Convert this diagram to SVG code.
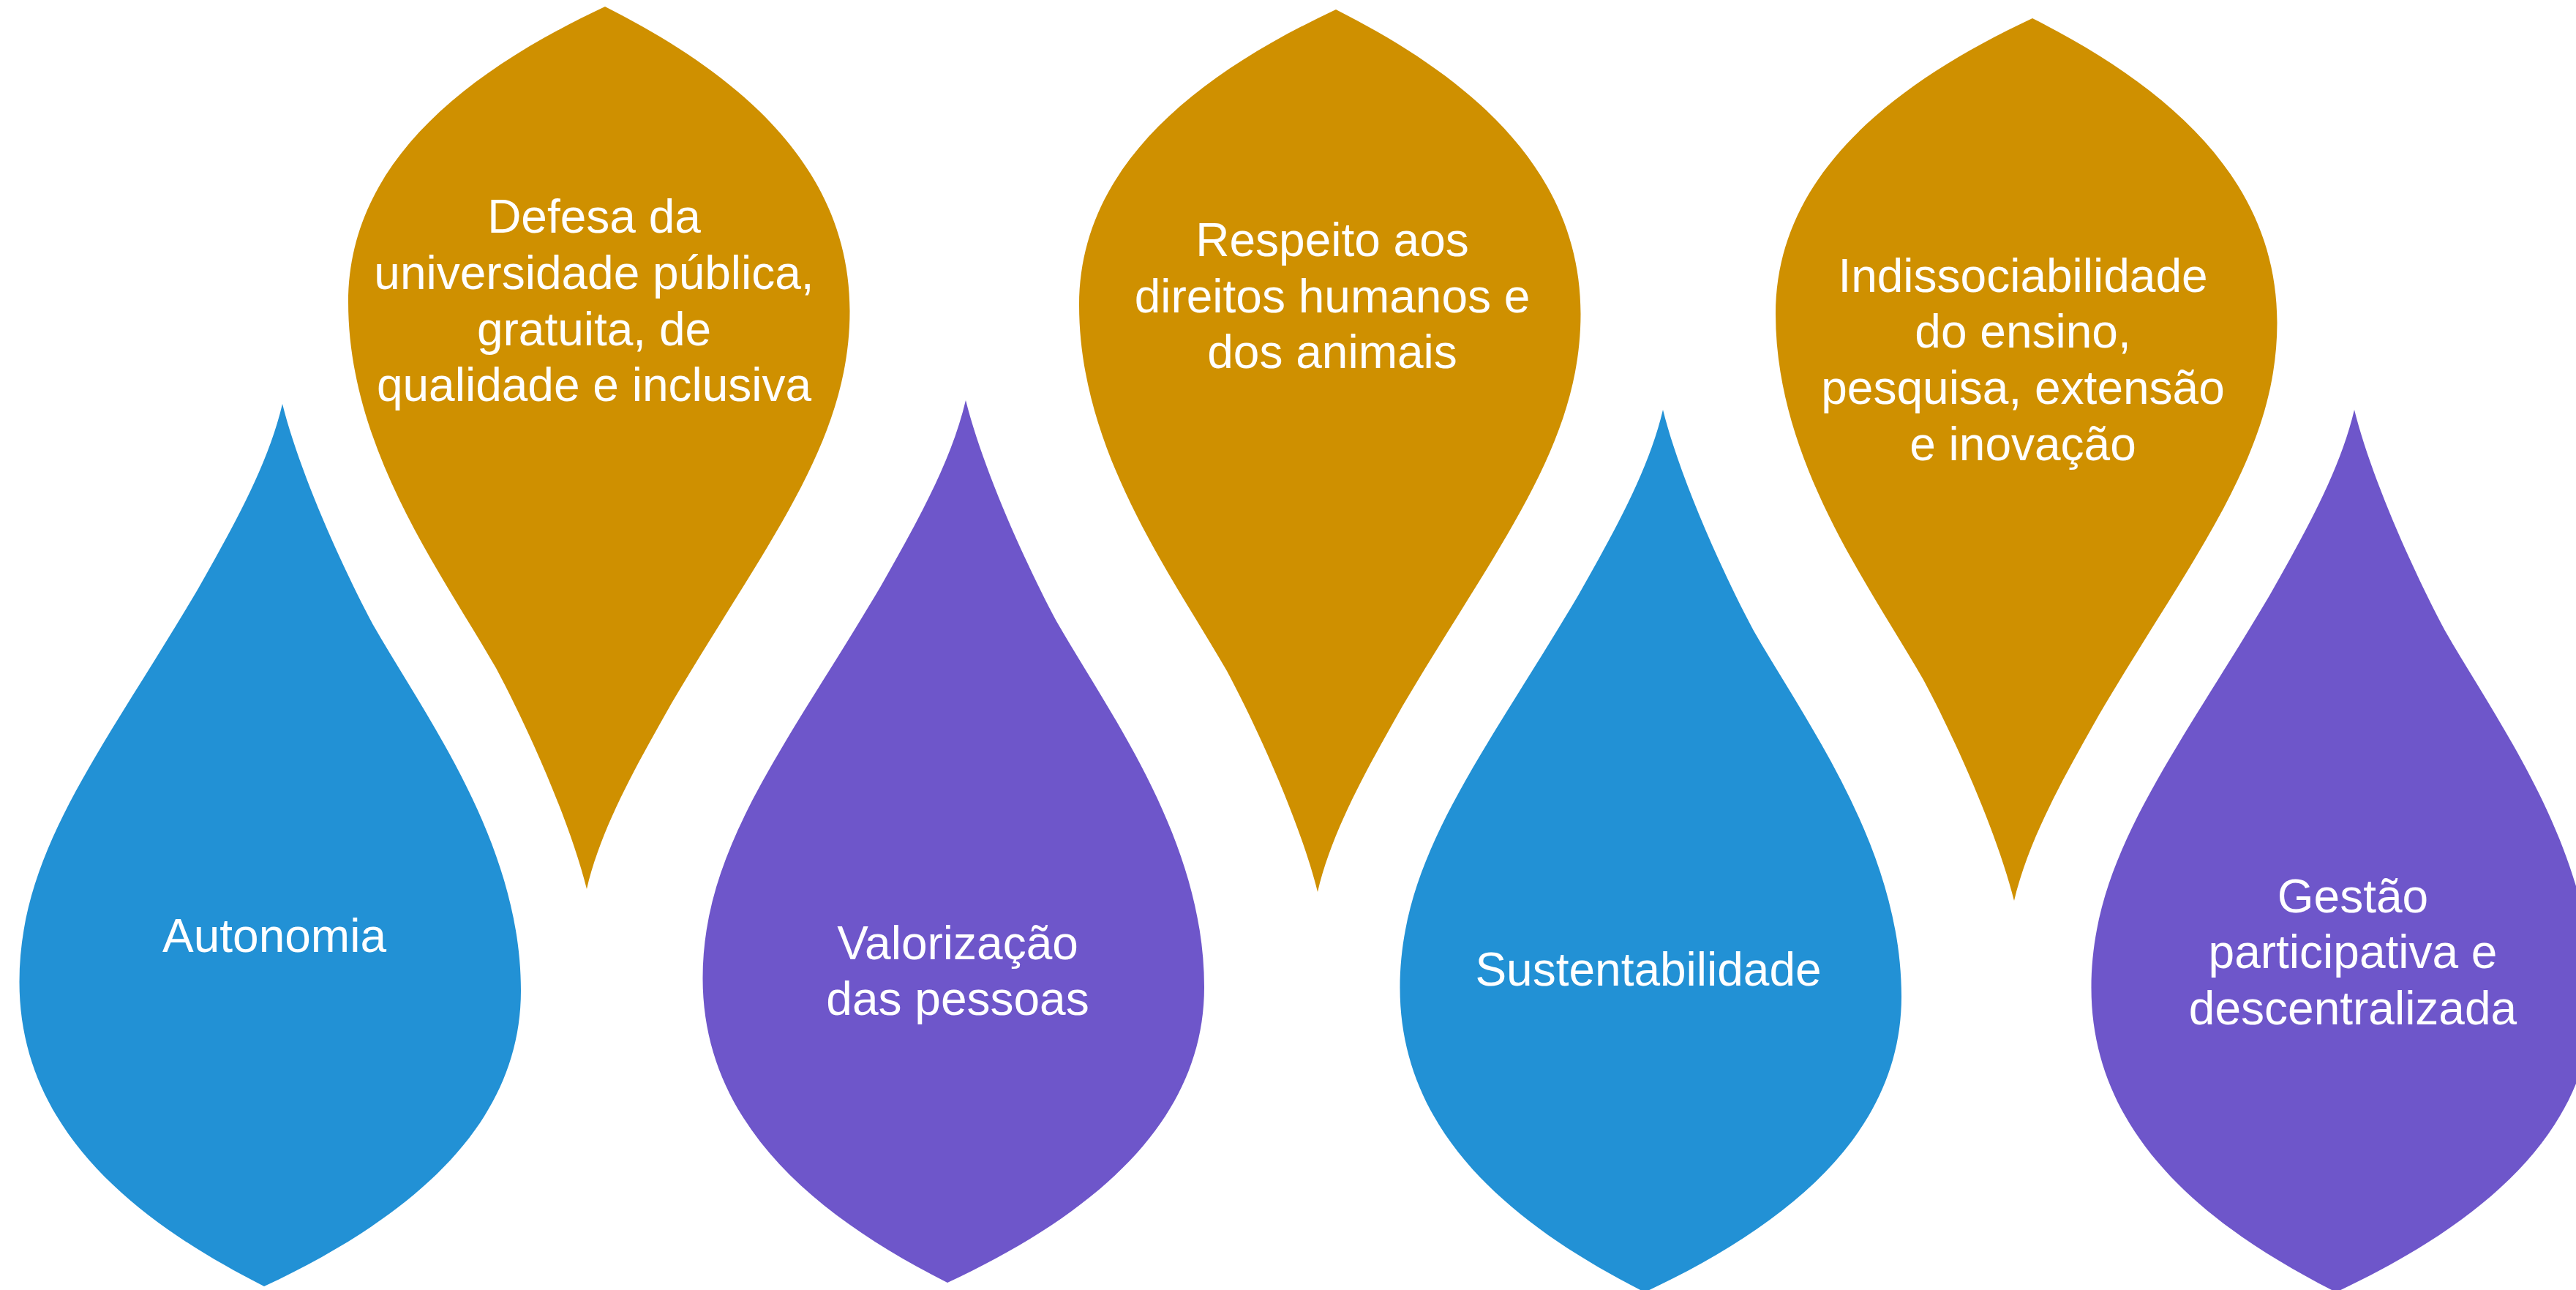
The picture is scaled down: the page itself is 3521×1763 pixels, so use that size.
<svg xmlns="http://www.w3.org/2000/svg" xmlns:xlink="http://www.w3.org/1999/xlink" width="3521" height="1763" viewBox="0 0 3521 1763">
<style>
.blue{fill:#2291D5}
.purple{fill:#6E56CA}
.gold{fill:#CF9000}
.lbl{font-family:"Liberation Sans",Arial,sans-serif;font-size:64px;fill:#FFFFFF;text-anchor:middle}
</style>
<defs>
<path id="drop" d="M0,0 C-20,85 -68,169 -116,254 C-246,474 -359.5,610 -359.5,790 C-359.5,990 -203,1116 -25,1206 C182,1109 326,982 326,802 C326,602 199,432.5 124,302 C77,214 21.6,87 0,0 Z"/>
</defs>
<rect width="3521" height="1763" fill="#FFFFFF"/>
<g id="connectors"></g>
<g id="node-autonomia">
<use href="#drop" xlink:href="#drop" class="blue" transform="translate(386,552)"/>
<text class="lbl" x="375" y="1301">Autonomia</text>
</g>
<g id="node-defesa">
<use href="#drop" xlink:href="#drop" class="gold" transform="translate(802,1215) rotate(180)"/>
<text class="lbl" x="812"><tspan x="812" y="318">Defesa da</tspan><tspan x="812" y="395">universidade pública,</tspan><tspan x="812" y="472">gratuita, de</tspan><tspan x="812" y="548">qualidade e inclusiva</tspan></text>
</g>
<g id="node-valorizacao">
<use href="#drop" xlink:href="#drop" class="purple" transform="translate(1320,547)"/>
<text class="lbl"><tspan x="1309" y="1311">Valorização</tspan><tspan x="1309" y="1387">das pessoas</tspan></text>
</g>
<g id="node-respeito">
<use href="#drop" xlink:href="#drop" class="gold" transform="translate(1801,1219) rotate(180)"/>
<text class="lbl"><tspan x="1821" y="350">Respeito aos</tspan><tspan x="1821" y="427">direitos humanos e</tspan><tspan x="1821" y="503">dos animais</tspan></text>
</g>
<g id="node-sustentabilidade">
<use href="#drop" xlink:href="#drop" class="blue" transform="translate(2273,560)"/>
<text class="lbl" x="2253" y="1347">Sustentabilidade</text>
</g>
<g id="node-indissociabilidade">
<use href="#drop" xlink:href="#drop" class="gold" transform="translate(2753,1231) rotate(180)"/>
<text class="lbl"><tspan x="2765" y="399">Indissociabilidade</tspan><tspan x="2765" y="475">do ensino,</tspan><tspan x="2765" y="552">pesquisa, extensão</tspan><tspan x="2765" y="629">e inovação</tspan></text>
</g>
<g id="node-gestao">
<use href="#drop" xlink:href="#drop" class="purple" transform="translate(3218,560)"/>
<text class="lbl"><tspan x="3216" y="1247">Gestão</tspan><tspan x="3216" y="1323">participativa e</tspan><tspan x="3216" y="1400">descentralizada</tspan></text>
</g>
</svg>
